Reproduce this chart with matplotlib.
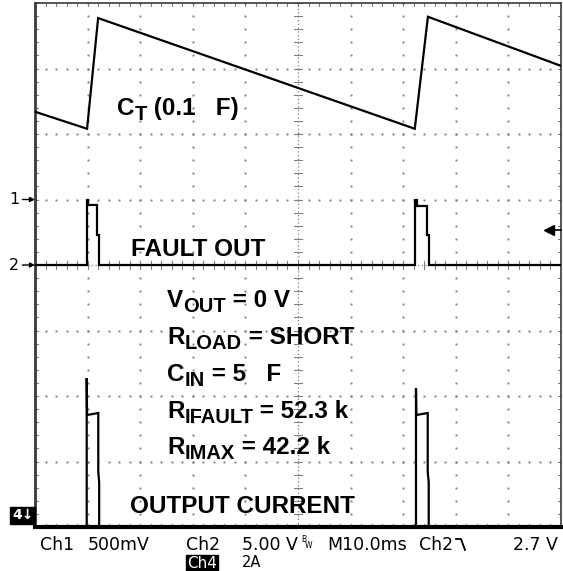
import numpy as np
import matplotlib
matplotlib.use("Agg")
import matplotlib.pyplot as plt
import matplotlib.transforms as mtransforms
from matplotlib.lines import Line2D

# ---------------- data (read from the scope shot) ----------------
# time axis: 10 ms/div, 10 divisions
t_ct = [0.0, 9.9, 12.0, 72.2, 74.7, 100.0]            # ms
v_ct = [0.67, 0.54, 1.385, 0.54, 1.395, 1.02]         # V (Ch1, 500 mV/div)

t_fault = [0.0, 9.8, 9.8, 10.08, 10.08, 11.79, 11.79, 12.26, 12.26,
           72.24, 72.24, 72.57, 72.57, 74.58, 74.58, 74.85, 74.85, 100.0]
v_fault = [0.0, 0.0, 4.96, 4.96, 4.58, 4.58, 2.29, 2.29, 0.0,
           0.0, 4.96, 4.96, 4.50, 4.50, 2.29, 2.29, 0.0, 0.0]   # V (Ch2, 5 V/div)

t_iout = [0.0, 9.83, 9.83, 9.9, 12.03, 12.03, 12.2, 12.2,
          72.43, 72.43, 72.5, 74.66, 74.66, 74.85, 74.85, 100.0]
i_iout = [0.0, 0.0, 4.55, 3.42, 3.48, 1.68, 1.37, 0.0,
          0.0, 4.24, 3.42, 3.48, 1.68, 1.37, 0.0, 0.0]            # A (Ch4, 2 A/div)

ch1_scale, ch2_scale, ch4_scale = 0.5, 5.0, 2.0   # per division
ch1_off, ch2_off, ch4_off = 5.0, 4.0, 0.0         # division of ground marker
t_scale = 10.0                                    # ms/div
trig_level = 2.7                                  # V on Ch2

# ---------------- figure ----------------
W, H = 563, 571
fig = plt.figure(figsize=(W / 100, H / 100), dpi=100)
fig.patch.set_facecolor("white")
renderer = fig.canvas.get_renderer()

def fx(x):
    return x / W

def fy(y):
    return 1 - y / H

ax = fig.add_axes([fx(35), fy(527), 526 / W, 524 / H])
ax.set_xlim(0, 10)
ax.set_ylim(0, 8)
ax.set_xticks([])
ax.set_yticks([])
for s in ax.spines.values():
    s.set_color("#3a3a3a")
    s.set_linewidth(1.2)
ax.spines["left"].set_linewidth(2.0)

# graticule dots
gc = "#808080"
minor_x = np.arange(0, 10.001, 0.2)
minor_y = np.arange(0, 8.001, 0.2)
for gx in [1, 2, 3, 4, 6, 7, 8, 9]:
    ax.plot(np.full_like(minor_y, gx), minor_y, ls="none", marker="s",
            ms=1.4, mew=0, color=gc, zorder=1)
for gy in [1, 2, 3, 5, 6, 7]:
    ax.plot(minor_x, np.full_like(minor_x, gy), ls="none", marker="s",
            ms=1.4, mew=0, color=gc, zorder=1)
# centre lines (dense dotted) with ticks
ax.plot([5, 5], [0, 8], ls=(0, (1, 2)), lw=0.9, color=gc, zorder=1)
ax.plot([0, 10], [4, 4], ls=(0, (1, 2)), lw=0.9, color=gc, zorder=1)
tx = 4 / 52.6   # tick half-length in div units (x)
ty = 4 / 65.5
for yy in minor_y:
    ax.plot([5 - tx, 5 + tx], [yy, yy], lw=0.8, color=gc, zorder=1)
for xx in minor_x:
    ax.plot([xx, xx], [4 - ty, 4 + ty], lw=0.8, color=gc, zorder=1)
# edge ticks
ex = 3 / 52.6
ey = 3 / 65.5
for yy in minor_y:
    ax.plot([0, ex], [yy, yy], lw=0.8, color=gc, zorder=1)
    ax.plot([10 - ex, 10], [yy, yy], lw=0.8, color=gc, zorder=1)
for xx in minor_x:
    ax.plot([xx, xx], [8 - ey, 8], lw=0.8, color=gc, zorder=1)
    ax.plot([xx, xx], [0, ey], lw=0.8, color=gc, zorder=1)

# ---------------- traces ----------------
tr = dict(color="black", lw=1.6, solid_joinstyle="miter", zorder=5)
ax.plot(np.array(t_ct) / t_scale, ch1_off + np.array(v_ct) / ch1_scale, **tr)
ax.plot(np.array(t_fault) / t_scale, ch2_off + np.array(v_fault) / ch2_scale, **tr)
ax.plot(np.array(t_iout) / t_scale, ch4_off + np.array(i_iout) / ch4_scale,
        clip_on=False, **tr)
ax.plot([0, 10], [ch4_off, ch4_off], color="black", lw=3.0, clip_on=False, zorder=5)

# trigger level marker (right side)
lvl = ch2_off + trig_level / ch2_scale
ax.plot([9.78, 10.0], [lvl, lvl], color="black", lw=1.2, clip_on=False, zorder=6)
ax.plot([9.78], [lvl], marker="<", ms=6.5, color="black", clip_on=False, zorder=6)

# channel ground markers
blend = mtransforms.blended_transform_factory(ax.transAxes, ax.transData)
for lab, off in [("1", ch1_off), ("2", ch2_off)]:
    ax.text(-0.03, off, lab, transform=blend, ha="right", va="center",
            fontsize=11.5, family="DejaVu Sans", clip_on=False)
    ax.annotate("", xy=(0.0, off), xytext=(-0.024, off), xycoords=blend,
                textcoords=blend,
                arrowprops=dict(arrowstyle="-|>", color="black", lw=1.0,
                                mutation_scale=7, shrinkA=0, shrinkB=0))
ax.text(-0.003, ch4_off + 0.18, "4\u2193", transform=blend, ha="right", va="center",
        fontsize=10, fontweight="bold", color="white", family="DejaVu Sans",
        bbox=dict(boxstyle="square,pad=0.12", fc="black", ec="black"))

# ---------------- annotations ----------------
MAIN, SUB = 17.5, 14.5

def label(x, y, parts):
    """parts: list of (text, is_subscript); x, y in pixels (baseline)."""
    cx = x
    for txt, sub in parts:
        size = SUB if sub else MAIN
        yy = y + (5 if sub else 0)
        t = fig.text(fx(cx), fy(yy), txt, fontsize=size, fontweight="bold",
                     family="Liberation Sans", ha="left", va="baseline")
        bb = t.get_window_extent(renderer=renderer)
        cx += bb.width

label(117, 115, [("C", False), ("T", True), (" (0.1   F)", False)])
label(131, 256, [("FAULT OUT", False)])
label(167, 307, [("V", False), ("OUT", True), (" = 0 V", False)])
label(167, 344, [("R", False), ("LOAD", True), (" = SHORT", False)])
label(167, 381, [("C", False), ("IN", True), (" = 5   F", False)])
label(167, 418, [("R", False), ("IFAULT", True), (" = 52.3 k", False)])
label(167, 454, [("R", False), ("IMAX", True), (" = 42.2 k", False)])
label(130, 513, [("OUTPUT CURRENT", False)])

# ---------------- scope readout ----------------
ro = dict(fontsize=12.5, family=["Liberation Sans Narrow", "DejaVu Sans"],
          ha="left", va="baseline")
base1 = 550
for x, s in [(40, "Ch1"), (88, "500mV"), (186, "Ch2"), (242, "5.00 V"),
             (327, "M10.0ms"), (419, "Ch2"), (513, "2.7 V")]:
    fig.text(fx(x), fy(base1), s, **ro)
fig.text(fx(301), fy(542), "B", fontsize=5.5, family="DejaVu Sans", ha="left", va="baseline")
fig.text(fx(305), fy(548), "W", fontsize=5.5, family="DejaVu Sans", ha="left", va="baseline")
# falling-edge trigger glyph
fig.add_artist(Line2D([fx(456), fx(461), fx(465)], [fy(539), fy(539), fy(550)],
                      transform=fig.transFigure, color="black", lw=1.3))
fig.text(fx(187), fy(568), "Ch4", color="white", fontsize=11,
         family=["Liberation Sans Narrow", "DejaVu Sans"], ha="left", va="baseline",
         bbox=dict(boxstyle="square,pad=0.05", fc="black", ec="black"))
fig.text(fx(242), fy(567), "2A", fontsize=10.5, family="DejaVu Sans",
         ha="left", va="baseline")

fig.savefig("out.png", dpi=100, facecolor="white")
